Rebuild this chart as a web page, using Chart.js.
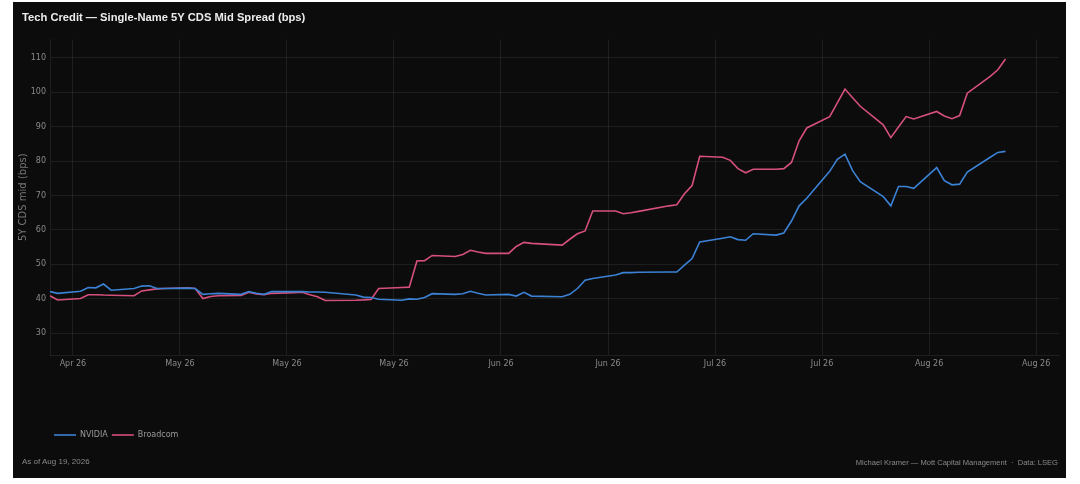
<!DOCTYPE html>
<html>
<head>
<meta charset="utf-8">
<script src="https://cdn.jsdelivr.net/npm/chart.js@4.4.1/dist/chart.umd.min.js"></script>
<style>
  html, body { margin: 0; padding: 0; background: #fff; }
  #frame {
    position: absolute; left: 13px; top: 2px;
    width: 1053px; height: 476px;
    background: #0c0c0c; overflow: hidden;
  }
  #wrap { position: absolute; left: 0; top: 0; width: 1053px; height: 476px; }
  .foot {
    position: absolute; top: 455px;
    font-family: "Liberation Sans", Arial, sans-serif;
    font-size: 8px; color: #8a8a8a; white-space: nowrap;
  }
  #foot-left { left: 9px; }
  #foot-right { right: 8px; font-size: 7.55px; top: 455.5px; }
</style>
</head>
<body>
<div id="frame">
  <div id="wrap"><canvas id="cds-chart"></canvas></div>
  <div class="foot" id="foot-left">As of Aug 19, 2026</div>
  <div class="foot" id="foot-right">Michael Kramer — Mott Capital Management &nbsp;·&nbsp; Data: LSEG</div>
</div>
<script>
// business days, Apr 16 - Aug 19 2026
var dates = [
  "2026-04-16", "2026-04-17",
  "2026-04-20", "2026-04-21", "2026-04-22", "2026-04-23", "2026-04-24",
  "2026-04-27", "2026-04-28", "2026-04-29", "2026-04-30", "2026-05-01",
  "2026-05-04", "2026-05-05", "2026-05-06", "2026-05-07", "2026-05-08",
  "2026-05-11", "2026-05-12", "2026-05-13", "2026-05-14", "2026-05-15",
  "2026-05-18", "2026-05-19", "2026-05-20", "2026-05-21", "2026-05-22",
  "2026-05-26", "2026-05-27", "2026-05-28", "2026-05-29",
  "2026-06-01", "2026-06-02", "2026-06-03", "2026-06-04", "2026-06-05",
  "2026-06-08", "2026-06-09", "2026-06-10", "2026-06-11", "2026-06-12",
  "2026-06-15", "2026-06-16", "2026-06-17", "2026-06-18",
  "2026-06-22", "2026-06-23", "2026-06-24", "2026-06-25", "2026-06-26",
  "2026-06-29", "2026-06-30", "2026-07-01", "2026-07-02",
  "2026-07-06", "2026-07-07", "2026-07-08", "2026-07-09", "2026-07-10",
  "2026-07-13", "2026-07-14", "2026-07-15", "2026-07-16", "2026-07-17",
  "2026-07-20", "2026-07-21", "2026-07-22", "2026-07-23", "2026-07-24",
  "2026-07-27", "2026-07-28", "2026-07-29", "2026-07-30", "2026-07-31",
  "2026-08-03", "2026-08-04", "2026-08-05", "2026-08-06", "2026-08-07",
  "2026-08-10", "2026-08-11", "2026-08-12", "2026-08-13", "2026-08-14",
  "2026-08-17", "2026-08-18", "2026-08-19"
];

var nvidia = [
  42.1, 41.6,
  42.2, 43.3, 43.2, 44.3, 42.5,
  43.0, 43.7, 43.8, 43.0, 43.0,
  43.1, 43.0, 41.3, 41.5, 41.6,
  41.3, 42.1, 41.6, 41.3, 42.1,
  42.1, 42.1, 42.0, 42.0, 41.9,
  41.1, 40.5, 40.4, 39.9,
  39.6, 40.0, 39.9, 40.4, 41.5,
  41.3, 41.5, 42.2, 41.6, 41.1,
  41.3, 40.8, 41.9, 40.8,
  40.6, 41.3, 43.0, 45.4, 45.9,
  46.9, 47.6, 47.6, 47.7,
  47.8, 47.8, 49.8, 51.7, 56.5,
  57.6, 58.0, 57.2, 57.0, 58.9,
  58.5, 59.1, 62.6, 67.0, 69.2,
  77.0, 80.5, 82.0, 77.2, 74.0,
  69.7, 67.0, 72.6, 72.6, 72.1,
  78.1, 74.3, 73.1, 73.3, 76.8,
  81.1, 82.5, 82.8
];

var broadcom = [
  40.9, 39.65,
  40.1, 41.2, 41.2, 41.1, 41.05,
  40.9, 42.3, 42.6, 42.9, 43.0,
  43.2, 43.0, 40.1, 40.7, 40.9,
  41.0, 41.9, 41.4, 41.2, 41.6,
  41.8, 41.9, 41.2, 40.6, 39.5,
  39.6, 39.7, 39.85, 43.0,
  43.3, 43.4, 51.0, 51.1, 52.6,
  52.3, 52.9, 54.1, 53.6, 53.2,
  53.2, 55.2, 56.4, 56.1,
  55.6, 57.3, 58.9, 59.7, 65.5,
  65.5, 64.7, 65.0, 65.4,
  67.0, 67.3, 70.5, 72.9, 81.4,
  81.1, 80.2, 77.8, 76.6, 77.6,
  77.6, 77.8, 79.6, 85.9, 89.6,
  92.9, 96.9, 100.9, 98.4, 95.9,
  90.5, 86.8, 89.9, 92.9, 92.2,
  94.4, 93.1, 92.3, 93.2, 99.7,
  104.6, 106.5, 109.6
];

// x ticks every other Sunday
var tickDates = [
  "2026-04-19", "2026-05-03", "2026-05-17", "2026-05-31", "2026-06-14",
  "2026-06-28", "2026-07-12", "2026-07-26", "2026-08-09", "2026-08-23"
];
var tickLabels = [
  "Apr 26", "May 26", "May 26", "May 26", "Jun 26",
  "Jun 26", "Jul 26", "Jul 26", "Aug 26", "Aug 26"
];
var yTicks = [30, 40, 50, 60, 70, 80, 90, 100, 110];

var xStart = "2026-04-16";
var xEnd = "2026-08-26";

function dayNum(s) {
  var p = s.split("-");
  return Date.UTC(+p[0], +p[1] - 1, +p[2]) / 86400000;
}

function toPoints(values) {
  return values.map(function (v, i) {
    return { x: dayNum(dates[i]), y: v };
  });
}

var gridColor = "rgba(255,255,255,0.075)";
var tickFont = { family: "DejaVu Sans", size: 8 };

var ctx = document.getElementById("cds-chart").getContext("2d");

new Chart(ctx, {
  type: "line",
  data: {
    datasets: [
      {
        label: "NVIDIA",
        data: toPoints(nvidia),
        borderColor: "#3b82d4",
        backgroundColor: "#3b82d4",
        borderWidth: 1.6,
        pointRadius: 0,
        tension: 0,
      },
      {
        label: "Broadcom",
        data: toPoints(broadcom),
        borderColor: "#d6507d",
        backgroundColor: "#d6507d",
        borderWidth: 1.6,
        pointRadius: 0,
        tension: 0,
      },
    ],
  },
  options: {
    responsive: true,
    maintainAspectRatio: false,
    animation: false,
    layout: {
      padding: { left: 9, right: 7, top: 0, bottom: 29 },
    },
    plugins: {
      title: {
        display: true,
        text: "Tech Credit — Single-Name 5Y CDS Mid Spread (bps)",
        align: "start",
        color: "#ececec",
        font: { family: "Liberation Sans", size: 11.2, weight: "bold" },
        padding: { top: 9, bottom: 15 },
      },
      legend: {
        position: "bottom",
        align: "start",
        fullSize: false,
        labels: {
          usePointStyle: true,
          pointStyle: "line",
          pointStyleWidth: 22,
          padding: 4,
          color: "#9a9a9a",
          font: { family: "DejaVu Sans", size: 8 },
        },
      },
      tooltip: { enabled: false },
    },
    scales: {
      x: {
        type: "linear",
        min: dayNum(xStart),
        max: dayNum(xEnd),
        afterBuildTicks: function (scale) {
          scale.ticks = tickDates.map(function (d) {
            return { value: dayNum(d) };
          });
        },
        afterFit: function (scale) {
          scale.height = 72;
        },
        grid: {
          color: gridColor,
          drawTicks: false,
        },
        border: { color: gridColor },
        ticks: {
          autoSkip: false,
          maxRotation: 0,
          padding: 4,
          color: "#8a8a8a",
          font: tickFont,
          callback: function (value, index) {
            return tickLabels[index];
          },
        },
      },
      y: {
        min: 23.7,
        max: 115.3,
        afterBuildTicks: function (scale) {
          scale.ticks = yTicks.map(function (v) {
            return { value: v };
          });
        },
        afterFit: function (scale) {
          scale.width = 28;
        },
        grid: {
          color: gridColor,
          drawTicks: false,
        },
        border: { color: gridColor },
        title: {
          display: true,
          text: "5Y CDS mid (bps)",
          color: "#777",
          font: { family: "DejaVu Sans", size: 10 },
          padding: { top: -5, bottom: 0 },
        },
        ticks: {
          padding: 4,
          color: "#8a8a8a",
          font: tickFont,
        },
      },
    },
  },
});
</script>
</body>
</html>
